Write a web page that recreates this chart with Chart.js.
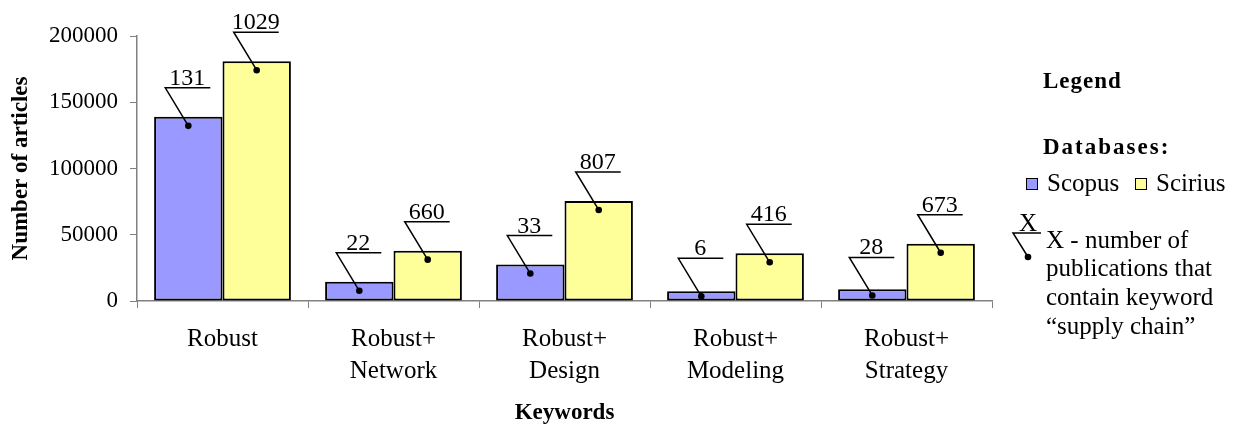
<!DOCTYPE html>
<html>
<head>
<meta charset="utf-8">
<title>Number of articles by keywords</title>
<script src="https://cdn.jsdelivr.net/npm/chart.js@4.4.1/dist/chart.umd.min.js"></script>
<style>
    html, body { margin: 0; padding: 0; background: #fff; }
    #wrap { width: 1234px; height: 430px; position: relative; }
</style>
</head>
<body>
<div id="wrap"><canvas id="data-chart"></canvas></div>
<script>
// Data
const keywords = [['Robust'], ['Robust+', 'Network'], ['Robust+', 'Design'], ['Robust+', 'Modeling'], ['Robust+', 'Strategy']];
const scopusArticles = [139000, 14500, 27500, 7300, 8800];
const sciriusArticles = [181000, 38000, 75500, 36000, 43200];
// publications that also contain "supply chain"
const scopusSupply = [131, 22, 33, 6, 28];
const sciriusSupply = [1029, 660, 807, 416, 673];
const yTicks = [0, 50000, 100000, 150000, 200000];

const seriesNames = ['Scopus', 'Scirius'];
const seriesColors = ['#9999FF', '#FFFF99'];
const noteLines = ['X - number of', 'publications that', 'contain keyword', '\u201Csupply chain\u201D'];

const SERIF = '"Liberation Serif", "Times New Roman", serif';

// ---------------- CALLOUTS ----------------

function drawCallout(ctx, x, y, text) {
    // dot at (x, y), leader goes up-left, label sits on a short rule
    const lx = x - 23;
    const ly = y - 38;
    ctx.beginPath();
    ctx.moveTo(x, y);
    ctx.lineTo(lx, ly);
    ctx.lineTo(lx + 45, ly);
    ctx.stroke();
    ctx.beginPath();
    ctx.arc(x, y, 3.3, 0, Math.PI * 2);
    ctx.fill();
    ctx.fillText(text, lx + 22, ly - 3);
}

const calloutPlugin = {
    id: 'callouts',
    afterDatasetsDraw(chart) {
        const ctx = chart.ctx;
        const supply = [scopusSupply, sciriusSupply];
        ctx.save();
        ctx.strokeStyle = '#000';
        ctx.fillStyle = '#000';
        ctx.lineWidth = 1.5;
        ctx.font = '24px ' + SERIF;
        ctx.textAlign = 'center';
        ctx.textBaseline = 'alphabetic';
        chart.data.datasets.forEach((ds, d) => {
            chart.getDatasetMeta(d).data.forEach((bar, i) => {
                const h = bar.base - bar.y;
                const dotY = bar.y + Math.min(9, h * 0.55);
                drawCallout(ctx, bar.x, dotY, String(supply[d][i]));
            });
        });
        ctx.restore();
    }
};

// ---------------- LEGEND ----------------

const legendPlugin = {
    id: 'sideLegend',
    afterDraw(chart) {
        const ctx = chart.ctx;
        ctx.save();
        ctx.fillStyle = '#000';
        ctx.textAlign = 'left';
        ctx.textBaseline = 'middle';

        ctx.font = 'bold 23px ' + SERIF;
        ctx.letterSpacing = '1px';
        ctx.fillText('Legend', 1043, 82);
        ctx.letterSpacing = '2px';
        ctx.fillText('Databases:', 1043, 148);
        ctx.letterSpacing = '0px';

        ctx.font = '25px ' + SERIF;
        const boxX = [1026, 1135];
        const textX = [1047, 1156];
        seriesNames.forEach((name, i) => {
            ctx.fillStyle = seriesColors[i];
            ctx.fillRect(boxX[i], 178, 11, 11);
            ctx.strokeStyle = '#000';
            ctx.lineWidth = 1;
            ctx.strokeRect(boxX[i] + 0.5, 178.5, 11, 11);
            ctx.fillStyle = '#000';
            ctx.fillText(name, textX[i], 184);
        });

        // small callout key
        ctx.strokeStyle = '#000';
        ctx.lineWidth = 1.5;
        ctx.beginPath();
        ctx.moveTo(1028, 257);
        ctx.lineTo(1013, 233);
        ctx.lineTo(1041, 233);
        ctx.stroke();
        ctx.beginPath();
        ctx.arc(1028, 257, 3.3, 0, Math.PI * 2);
        ctx.fill();
        ctx.textAlign = 'center';
        ctx.textBaseline = 'alphabetic';
        ctx.fillText('X', 1028, 231);

        ctx.textAlign = 'left';
        ctx.textBaseline = 'middle';
        noteLines.forEach((line, i) => {
            ctx.fillText(line, 1046, 241 + i * 28.7);
        });
        ctx.restore();
    }
};

// ---------------- CHART ----------------

function initializeChart() {
    const ctx = document.getElementById('data-chart').getContext('2d');
    Chart.defaults.font.family = SERIF;
    Chart.defaults.color = '#000';

    new Chart(ctx, {
        type: 'bar',
        data: {
            labels: keywords,
            datasets: [
                {
                    label: seriesNames[0],
                    data: scopusArticles,
                    backgroundColor: seriesColors[0],
                    borderColor: '#000',
                    borderWidth: 2,
                    borderSkipped: false
                },
                {
                    label: seriesNames[1],
                    data: sciriusArticles,
                    backgroundColor: seriesColors[1],
                    borderColor: '#000',
                    borderWidth: 2,
                    borderSkipped: false
                }
            ]
        },
        options: {
            responsive: true,
            maintainAspectRatio: false,
            animation: false,
            devicePixelRatio: 1,
            layout: { padding: { left: 0, right: 242, top: 36, bottom: 0 } },
            datasets: { bar: { categoryPercentage: 0.8, barPercentage: 1.0 } },
            plugins: {
                legend: { display: false },
                tooltip: { enabled: false }
            },
            scales: {
                x: {
                    grid: { drawOnChartArea: false, offset: true, tickLength: 7, color: '#808080', lineWidth: 1 },
                    border: { color: '#808080', width: 1.5 },
                    ticks: { font: { size: 25, lineHeight: 1.28 }, padding: 15, maxRotation: 0, autoSkip: false },
                    title: { display: true, text: 'Keywords', font: { size: 23, weight: 'bold' }, padding: { top: 0, bottom: 3 } },
                    afterFit(scale) { scale.height = 129; }
                },
                y: {
                    min: 0,
                    max: 200000,
                    grid: { drawOnChartArea: false, tickLength: 7, color: '#808080', lineWidth: 1 },
                    border: { color: '#808080', width: 1.5 },
                    afterBuildTicks(scale) { scale.ticks = yTicks.map(v => ({ value: v })); },
                    ticks: { font: { size: 23 }, padding: 12, callback: v => String(v) },
                    title: { display: true, text: 'Number of articles', font: { size: 23, weight: 'bold' }, padding: { top: 7, bottom: 0 } },
                    afterFit(scale) { scale.width = 137; }
                }
            }
        },
        plugins: [calloutPlugin, legendPlugin]
    });
}

document.addEventListener('DOMContentLoaded', initializeChart);
</script>
</body>
</html>
